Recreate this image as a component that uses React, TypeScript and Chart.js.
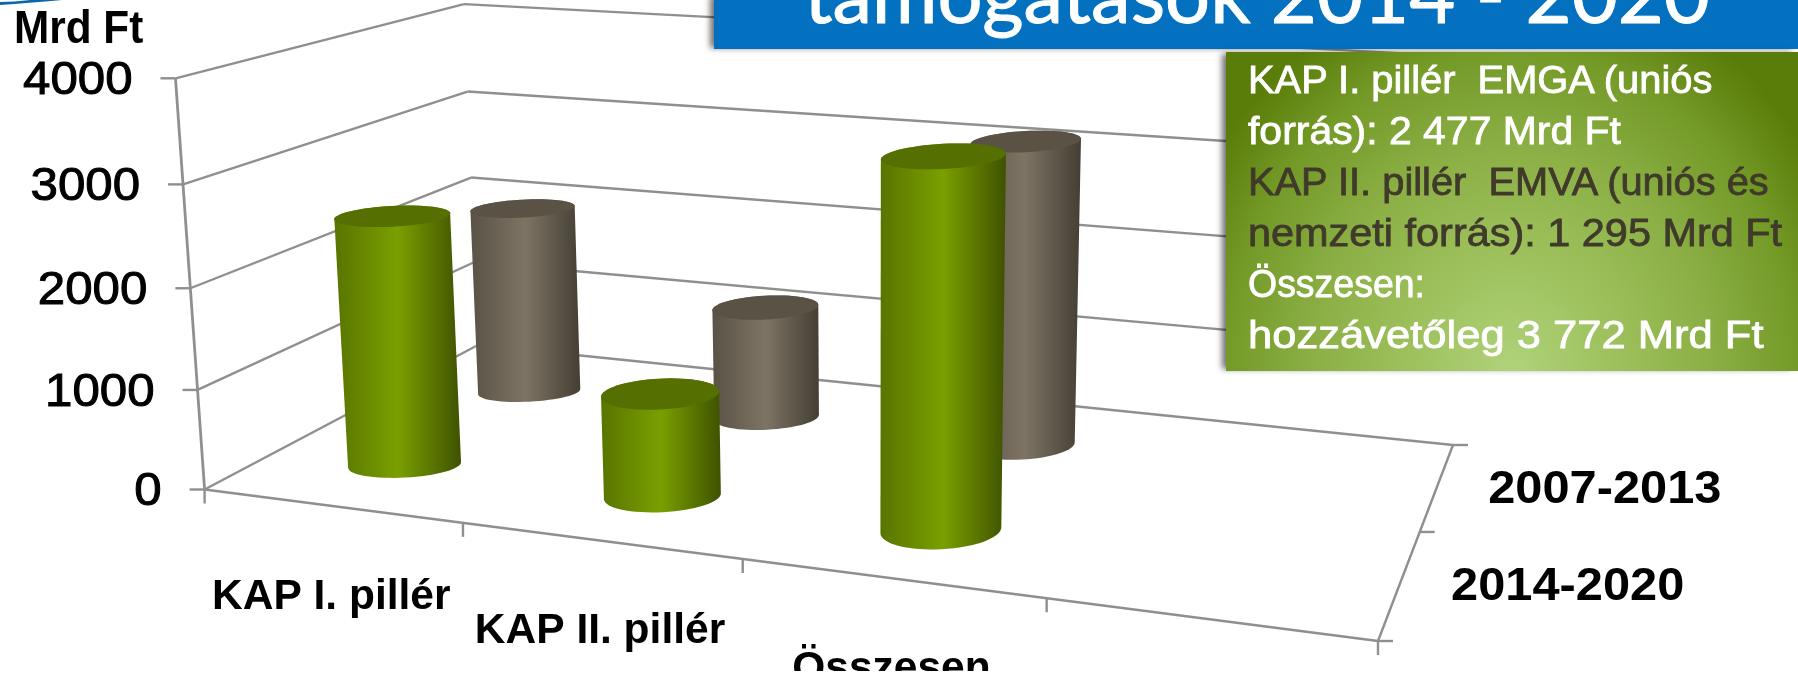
import React, { useEffect, useRef } from "react";
import { Chart, BarController, BarElement, CategoryScale, LinearScale } from "chart.js";

const categories = ["KAP I. pillér", "KAP II. pillér", "Összesen", ""];
const seriesNames = ["2014-2020", "2007-2013"];
const values2014 = [2530, 1020, 3500, null];
const values2007 = [2050, 1200, 3150, null];
const yTicks = [0, 1000, 2000, 3000, 4000];
const yMax = 4000;
const unitLabel = "Mrd Ft";
const titleText = "támogatások 2014 - 2020";
const panelLines = [
  { text: "KAP I. pillér  EMGA (uniós", color: "#ffffff" },
  { text: "forrás): 2 477 Mrd Ft", color: "#ffffff" },
  { text: "KAP II. pillér  EMVA (uniós és", color: "#3f3a2a" },
  { text: "nemzeti forrás): 1 295 Mrd Ft", color: "#3f3a2a" },
  { text: "Összesen:", color: "#ffffff" },
  { text: "hozzávetőleg 3 772 Mrd Ft", color: "#ffffff" },
];
const panelStretch = [1.035, 1.063, 1.034, 1.076, 0.973, 1.131];

// Corners of the 3D box on screen
const A = [204.6, 489.5], B = [1378, 641], C = [1453, 445], D = [478, 345], E = [175.5, 78.3];
const VERTICAL_PERSPECTIVE = -0.0415;

function buildProjection() {
  const dx1 = B[0] - C[0], dx2 = D[0] - C[0], sx = A[0] - B[0] + C[0] - D[0];
  const dy1 = B[1] - C[1], dy2 = D[1] - C[1], sy = A[1] - B[1] + C[1] - D[1];
  const det = dx1 * dy2 - dx2 * dy1;
  const g = (sx * dy2 - dx2 * sy) / det;
  const h = (dx1 * sy - sx * dy1) / det;
  const r0 = [B[0] - A[0] + g * B[0], D[0] - A[0] + h * D[0], A[0]];
  const r1 = [B[1] - A[1] + g * B[1], D[1] - A[1] + h * D[1], A[1]];
  const r2 = [g, h, 1];
  const cz = VERTICAL_PERSPECTIVE;
  const cx = E[0] * (1 + cz) - A[0];
  const cy = E[1] * (1 + cz) - A[1];
  return (u: number, v: number, w: number): [number, number] => {
    const z = r2[0] * u + r2[1] * v + cz * w + r2[2];
    return [
      (r0[0] * u + r0[1] * v + cx * w + r0[2]) / z,
      (r1[0] * u + r1[1] * v + cy * w + r1[2]) / z,
    ];
  };
}
const project = buildProjection();

const U_SHIFT = 0.003;
const ROW_V = [0.238, 0.728];
const ROW_SHAPE = [
  { rx0: 55.5, rxU: 8, h0: 22, hU: 26 },
  { rx0: 50.5, rxU: 5, h0: 18, hU: 18 },
];
const TILT = (-3 * Math.PI) / 180;
const PAL = [
  { edgeL: "#587500", mid: "#7a9f00", edgeR: "#3f5200", top: "#557000" },
  { edgeL: "#595245", mid: "#7d7464", edgeR: "#443e34", top: "#5a5244" },
];

function hull(points: [number, number][]) {
  const pts = points.slice().sort((a, b) => a[0] - b[0] || a[1] - b[1]);
  const cross = (o: number[], a: number[], b: number[]) => (a[0] - o[0]) * (b[1] - o[1]) - (a[1] - o[1]) * (b[0] - o[0]);
  const lo: [number, number][] = [], up: [number, number][] = [];
  for (const p of pts) { while (lo.length > 1 && cross(lo[lo.length - 2], lo[lo.length - 1], p) <= 0) lo.pop(); lo.push(p); }
  for (const p of pts.slice().reverse()) { while (up.length > 1 && cross(up[up.length - 2], up[up.length - 1], p) <= 0) up.pop(); up.push(p); }
  return lo.slice(0, -1).concat(up.slice(0, -1));
}

function tracePoly(ctx: CanvasRenderingContext2D, pts: [number, number][]) {
  ctx.beginPath();
  pts.forEach((p, i) => (i ? ctx.lineTo(p[0], p[1]) : ctx.moveTo(p[0], p[1])));
  ctx.closePath();
}

const normU = (chart: any, i: number) => {
  const s = chart.scales.x;
  return (s.getPixelForValue(i) - s.left) / s.width;
};
const normW = (chart: any, val: number) => {
  const s = chart.scales.y;
  return (s.bottom - s.getPixelForValue(val)) / s.height;
};

class CylinderController extends (BarController as any) {
  static id = "cylinder";
  static defaults = (BarController as any).defaults;
  static overrides = (BarController as any).overrides;
  draw() {
    const chart = (this as any).chart;
    const ctx: CanvasRenderingContext2D = chart.ctx;
    const idx = (this as any).index;
    const pal = PAL[idx];
    const shape = ROW_SHAPE[idx];
    const v0 = ROW_V[idx];
    const data = chart.data.datasets[idx].data;
    data.forEach((val: number | null, i: number) => {
      if (val == null) return;
      const u0 = normU(chart, i) + U_SHIFT;
      const w = normW(chart, val);
      const ring = (ww: number) => {
        const c = project(u0, v0, ww);
        const rx = (shape.rx0 + shape.rxU * u0) * (1 + 0.04 * ww);
        const ry = ((shape.h0 + shape.hU * u0) * (1 - 0.45 * ww * ww)) / 2;
        const out: [number, number][] = [];
        for (let k = 0; k < 64; k++) {
          const t = (k / 64) * Math.PI * 2;
          const ex = rx * Math.cos(t), ey = ry * Math.sin(t);
          out.push([c[0] + ex * Math.cos(TILT) - ey * Math.sin(TILT), c[1] + ex * Math.sin(TILT) + ey * Math.cos(TILT)]);
        }
        return out;
      };
      const bot = ring(0), top = ring(w);
      const all = bot.concat(top);
      const body = hull(all);
      const xs = all.map((p) => p[0]);
      const x0 = Math.min(...xs), x1 = Math.max(...xs);
      const grad = ctx.createLinearGradient(x0, 0, x1, 0);
      grad.addColorStop(0, pal.edgeL);
      grad.addColorStop(0.5, pal.mid);
      grad.addColorStop(1, pal.edgeR);
      ctx.save();
      tracePoly(ctx, body);
      ctx.fillStyle = grad;
      ctx.fill();
      tracePoly(ctx, top);
      ctx.fillStyle = pal.top;
      ctx.fill();
      ctx.restore();
    });
  }
}

const LINE = "#8f8f8f";
function seg(ctx: CanvasRenderingContext2D, a: number[], b: number[], lw = 2.4) {
  ctx.beginPath();
  ctx.moveTo(a[0], a[1]);
  ctx.lineTo(b[0], b[1]);
  ctx.lineWidth = lw;
  ctx.strokeStyle = LINE;
  ctx.stroke();
}
function label(ctx: CanvasRenderingContext2D, text: string, x: number, y: number, font: string, align: "left" | "center" | "right", sx = 1, bolden = 0) {
  ctx.save();
  ctx.translate(x, y);
  ctx.scale(sx, 1);
  ctx.font = font;
  ctx.textAlign = align;
  ctx.textBaseline = "middle";
  ctx.fillStyle = "#000";
  if (bolden) { ctx.strokeStyle = "#000"; ctx.lineWidth = bolden; ctx.strokeText(text, 0, 0); }
  ctx.fillText(text, 0, 0);
  ctx.restore();
}

const boxPlugin = {
  id: "box3d",
  beforeDatasetsDraw(chart: any) {
    const ctx: CanvasRenderingContext2D = chart.ctx;
    ctx.save();
    yTicks.forEach((t) => {
      const w = normW(chart, t);
      const a = project(0, 0, w), d = project(0, 1, w), c = project(1, 1, w);
      seg(ctx, a, d);
      seg(ctx, d, c);
      seg(ctx, [a[0] - 15, a[1]], a);
      label(ctx, String(t), a[0] - 43, a[1] + 3, "46px 'Liberation Sans'", "right", 1.07, 1);
    });
    seg(ctx, project(0, 0, 0), project(0, 0, 1), 2.8);
    seg(ctx, project(0, 0, 0), project(1, 0, 0));
    seg(ctx, project(1, 0, 0), project(1, 1, 0));
    for (let i = 0; i <= categories.length; i++) {
      const p = project(i / categories.length, 0, 0);
      seg(ctx, p, [p[0], p[1] + 14]);
    }
    [0, 0.5, 1].forEach((v) => {
      const p = project(1, v, 0);
      seg(ctx, p, [p[0] + 15, p[1]]);
    });
    ctx.save();
    ctx.beginPath();
    ctx.rect(0, 0, chart.width, 671);
    ctx.clip();
    categories.forEach((c, i) => {
      if (!c) return;
      const p = project(normU(chart, i), 0, 0);
      label(ctx, c, p[0], p[1] + 91, "bold 42.5px 'Liberation Sans'", "center");
    });
    ctx.restore();
    seriesNames.forEach((s, i) => {
      const p = project(1, [0.25, 0.75][i], 0);
      label(ctx, s, p[0] + 51, p[1] + 4, "bold 46px 'Liberation Sans'", "left", 1.06);
    });
    label(ctx, unitLabel, 14, 30, "bold 46px 'Liberation Sans'", "left", 0.92);
    ctx.restore();
  },
};

Chart.register(CylinderController as any, BarElement, CategoryScale, LinearScale);

export default function App() {
  const ref = useRef<HTMLCanvasElement>(null);
  useEffect(() => {
    const chart = new Chart(ref.current!, {
      type: "cylinder" as any,
      data: {
        labels: categories,
        datasets: [
          { label: seriesNames[0], data: values2014 as any },
          { label: seriesNames[1], data: values2007 as any },
        ],
      },
      options: {
        animation: false,
        responsive: false,
        devicePixelRatio: 1,
        layout: { padding: 0 },
        plugins: { legend: { display: false }, tooltip: { enabled: false } } as any,
        scales: {
          x: { display: false },
          y: { display: false, min: 0, max: yMax, ticks: { stepSize: 1000 } },
        },
      } as any,
      plugins: [boxPlugin as any],
    });
    return () => chart.destroy();
  }, []);
  return (
    <div style={{ position: "fixed", left: 0, top: 0, width: 1798, height: 675, overflow: "hidden", background: "#fff" }}>
      <canvas ref={ref} width={1798} height={675} style={{ position: "absolute", left: 0, top: 0 }} />
      <svg width="80" height="10" style={{ position: "absolute", left: 0, top: 0 }}>
        <path d="M0 5 Q28 3 62 0 L30 0 Q14 2 0 2 Z" fill="#0a66ad" />
      </svg>
      <div style={{ position: "absolute", left: 714, top: -5, right: 0, height: 54, background: "#0370c0", boxShadow: "-5px 0 6px -1px rgba(0,0,0,0.55)", overflow: "hidden" }}>
        <div style={{ position: "absolute", left: 90, top: -42.5, fontFamily: "Lato", fontSize: 79.5, lineHeight: "80px", color: "#fff", whiteSpace: "pre", fontWeight: 400, WebkitTextStroke: "1px #fff" }}>{titleText}</div>
      </div>
      <div style={{ position: "absolute", left: 1226, top: 52, right: 0, height: 319, boxShadow: "-6px 0 6px -2px rgba(0,0,0,0.55)", background: "radial-gradient(ellipse 62% 125% at 50% 100%, #b0d27a 0%, #9dc05c 30%, #8cb046 55%, #749a28 80%, #5a7c08 100%)" }}>
        {panelLines.map((l, i) => (
          <div key={i} style={{ position: "absolute", left: 22, top: 3 + i * 51, height: 50, lineHeight: "50px", fontFamily: "'Liberation Sans'", fontSize: 38.5, color: l.color, whiteSpace: "pre", WebkitTextStroke: "0.8px " + l.color, transform: `scaleX(${panelStretch[i]})`, transformOrigin: "left center" }}>{l.text}</div>
        ))}
      </div>
    </div>
  );
}
